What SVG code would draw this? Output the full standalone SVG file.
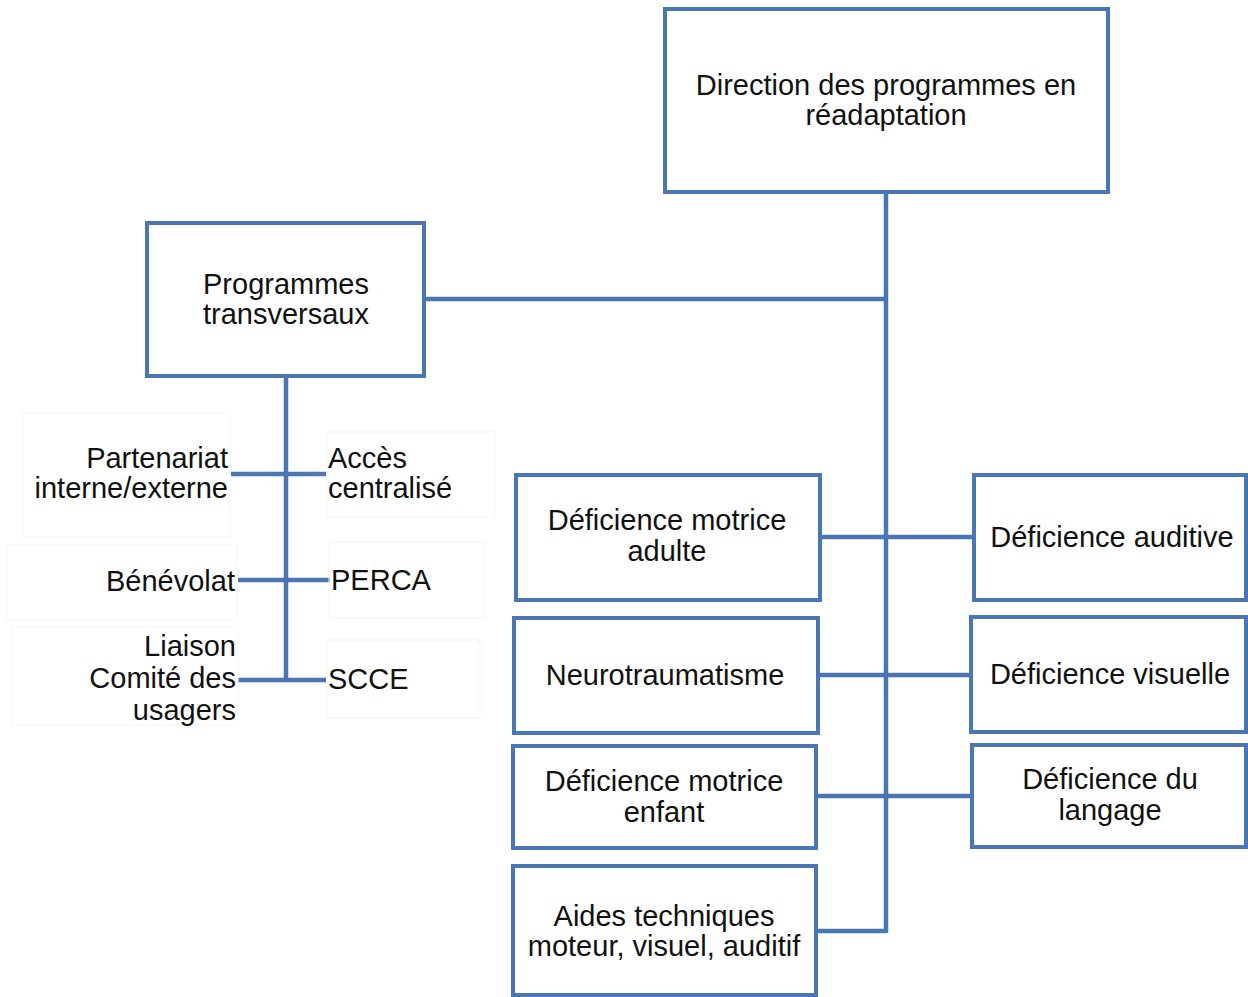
<svg xmlns="http://www.w3.org/2000/svg" width="1248" height="997" viewBox="0 0 1248 997">
<style>
.box{fill:#fff;stroke:#4a77b4;stroke-width:4}
.faint{fill:none;stroke:#f5f5f5;stroke-width:1}
.ln{stroke:#4a77b4;stroke-width:4.5;fill:none}
text{font-family:"Liberation Sans",Arial,sans-serif;font-size:29px;fill:#111}
.c{text-anchor:middle}
.r{text-anchor:end}
</style>
<rect width="1248" height="997" fill="#fff"/>
<g id="connectors">
<path class="ln" d="M886 192V933M424 299H886M286 376V680M231 474H326M238 580H330M238 680H326M820 537H974M818 675H971M816 796H972M816 931H886"/>
</g>
<g id="labels-frames">
<rect class="faint" x="23" y="413" width="207" height="124"/>
<rect class="faint" x="327" y="432" width="168" height="85"/>
<rect class="faint" x="7" y="545" width="230" height="75"/>
<rect class="faint" x="329" y="542" width="155" height="76"/>
<rect class="faint" x="12" y="627" width="226" height="98"/>
<rect class="faint" x="327" y="640" width="153" height="78"/>
</g>
<g id="direction">
<rect class="box" x="665" y="9" width="443" height="183"/>
<text class="c" x="886" y="95">Direction des programmes  en</text>
<text class="c" x="886" y="125">réadaptation</text>
</g>
<g id="transversaux">
<rect class="box" x="147" y="223" width="277" height="153"/>
<text class="c" x="286" y="294">Programmes</text>
<text class="c" x="286" y="324">transversaux</text>
</g>
<g id="partenariat">
<text class="r" x="228" y="468">Partenariat</text>
<text class="r" x="228" y="498">interne/externe</text>
</g>
<g id="acces">
<text x="328" y="468">Accès</text>
<text x="328" y="498">centralisé</text>
</g>
<g id="benevolat"><text class="r" x="235" y="591">Bénévolat</text></g>
<g id="perca"><text x="331" y="590">PERCA</text></g>
<g id="liaison">
<text class="r" x="236" y="656">Liaison</text>
<text class="r" x="236" y="688">Comité des</text>
<text class="r" x="236" y="720">usagers</text>
</g>
<g id="scce"><text x="328" y="689">SCCE</text></g>
<g id="dm-adulte">
<rect class="box" x="516" y="475" width="304" height="125"/>
<text class="c" x="667" y="530">Déficience motrice</text>
<text class="c" x="667" y="561">adulte</text>
</g>
<g id="neuro">
<rect class="box" x="514" y="618" width="304" height="115"/>
<text class="c" x="665" y="685">Neurotraumatisme</text>
</g>
<g id="dm-enfant">
<rect class="box" x="513" y="746" width="303" height="102"/>
<text class="c" x="664" y="791">Déficience motrice</text>
<text class="c" x="664" y="822">enfant</text>
</g>
<g id="aides">
<rect class="box" x="513" y="866" width="303" height="129"/>
<text class="c" x="664" y="926">Aides techniques</text>
<text class="c" x="664" y="956">moteur, visuel, auditif</text>
</g>
<g id="auditive">
<rect class="box" x="974" y="475" width="272" height="125"/>
<text class="c" x="1112" y="547">Déficience auditive</text>
</g>
<g id="visuelle">
<rect class="box" x="971" y="617" width="275" height="115"/>
<text class="c" x="1110" y="684">Déficience visuelle</text>
</g>
<g id="langage">
<rect class="box" x="972" y="745" width="274" height="102"/>
<text class="c" x="1110" y="789">Déficience du</text>
<text class="c" x="1110" y="820">langage</text>
</g>
</svg>
